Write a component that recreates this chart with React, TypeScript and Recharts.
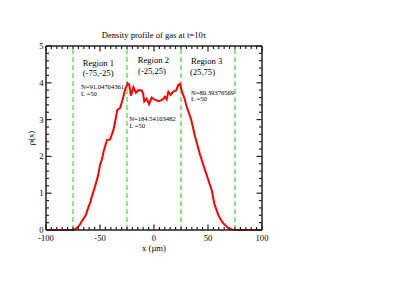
import React from 'react';
import { LineChart, Line, XAxis, YAxis, ReferenceLine, ReferenceDot } from 'recharts';

// ---- data ----
const xPositions = [
  -100, -80, -75, -72, -69, -67, -65, -63, -61, -59, -57.7, -54.6, -52, -51, -50,
  -48.4, -46.5, -44.5, -43.5, -40.7, -39, -37.6, -36, -34, -31.5, -30, -28.4, -26.9,
  -24.4, -23, -21.3, -19.1, -16.7, -14.5, -11.4, -10, -9, -6.8, -4.6, -2.2, 0, 2, 4,
  7, 9, 10.2, 11.7, 13.3, 15.4, 17.9, 20.4, 22.5, 24.1, 26, 28, 30.3, 32, 34.5, 38,
  42.6, 47.2, 50.3, 53.4, 55.8, 59.5, 62, 64.2, 68.8, 73.4, 75, 80, 100,
];
const density = [
  0, 0, 0, 0.04, 0.13, 0.23, 0.32, 0.41, 0.6, 0.75, 0.9, 1.18, 1.45, 1.6, 1.77,
  1.9, 2.15, 2.35, 2.45, 2.46, 2.6, 2.72, 2.94, 3.26, 3.31, 3.45, 3.62, 3.8,
  3.99, 3.95, 3.65, 3.88, 3.73, 3.8, 3.79, 3.7, 3.49, 3.57, 3.42, 3.6, 3.55, 3.53, 3.5,
  3.53, 3.58, 3.62, 3.55, 3.76, 3.67, 3.76, 3.79, 3.94, 3.97, 3.75, 3.6, 3.35, 3.21, 2.99, 2.54,
  2.05, 1.63, 1.36, 1.09, 0.72, 0.41, 0.27, 0.18, 0.05, 0, 0, 0, 0,
];
const xMajorTicks = [-100, -50, 0, 50, 100];
const xAllTicks = [
  -100, -95, -90, -85, -80, -75, -70, -65, -60, -55, -50, -45, -40, -35, -30, -25, -20,
  -15, -10, -5, 0, 5, 10, 15, 20, 25, 30, 35, 40, 45, 50, 55, 60, 65, 70, 75, 80, 85,
  90, 95, 100,
];
const yMajorTicks = [0, 1, 2, 3, 4, 5];
const yAllTicks = [
  0, 0.2, 0.4, 0.6, 0.8, 1, 1.2, 1.4, 1.6, 1.8, 2, 2.2, 2.4, 2.6, 2.8, 3, 3.2, 3.4,
  3.6, 3.8, 4, 4.2, 4.4, 4.6, 4.8, 5,
];
const regionBounds = [-75, -25, 25, 75];
const regionNames = ['Region 1', 'Region 2', 'Region 3'];
const regionRanges = ['(-75,-25)', '(-25,25)', '(25,75)'];
const regionCounts = ['N=91.04704361', 'N=184.54103482', 'N=80.39376569'];
const regionLengths = ['L =50', 'L =50', 'L =50'];
const titleText = 'Density profile of gas at t=10τ';
const xLabelText = 'x (µm)';
const yLabelText = 'ρ(x)';

// ---- layout (annotation anchors in data coordinates) ----
const nameAnchors = [
  { x: -66, y: 4.55 },
  { x: -15.1, y: 4.62 },
  { x: 34.3, y: 4.59 },
];
const rangeAnchors = [
  { x: -66, y: 4.27 },
  { x: -14.8, y: 4.32 },
  { x: 33.3, y: 4.3 },
];
const countAnchors = [
  { x: -67.6, y: 3.89 },
  { x: -22.9, y: 3.04 },
  { x: 34.3, y: 3.75 },
];
const lengthAnchors = [
  { x: -67.6, y: 3.7 },
  { x: -22.9, y: 2.85 },
  { x: 34.3, y: 3.56 },
];

const chartData = xPositions.map((x, i) => ({ x, rho: density[i] }));

const FONT = "'Liberation Serif', 'Times New Roman', Times, serif";
const AXIS = '#222';
const MAJOR = 5.5;
const MINOR = 3;

const BottomTick = (props: any) => {
  const { x, y, payload } = props;
  const major = xMajorTicks.includes(payload.value);
  return (
    <g>
      <line x1={x} x2={x} y1={y} y2={y - (major ? MAJOR : MINOR)} stroke={AXIS} strokeWidth={1.2} />
      {major && (
        <text x={x} y={y + 7.5} textAnchor="middle" dominantBaseline="central" fontSize={8.6} fontFamily={FONT} fill="#000">
          {payload.value}
        </text>
      )}
    </g>
  );
};

const TopTick = (props: any) => {
  const { x, y, payload } = props;
  const major = xMajorTicks.includes(payload.value);
  return <line x1={x} x2={x} y1={y} y2={y + (major ? MAJOR : MINOR)} stroke={AXIS} strokeWidth={1.2} />;
};

const LeftTick = (props: any) => {
  const { x, y, payload } = props;
  const major = yMajorTicks.includes(payload.value);
  return (
    <g>
      <line x1={x} x2={x + (major ? MAJOR : MINOR)} y1={y} y2={y} stroke={AXIS} strokeWidth={1.2} />
      {major && (
        <text x={x - 2.5} y={y} textAnchor="end" dominantBaseline="central" fontSize={8.6} fontFamily={FONT} fill="#000">
          {payload.value}
        </text>
      )}
    </g>
  );
};

const RightTick = (props: any) => {
  const { x, y, payload } = props;
  const major = yMajorTicks.includes(payload.value);
  return <line x1={x} x2={x - (major ? MAJOR : MINOR)} y1={y} y2={y} stroke={AXIS} strokeWidth={1.2} />;
};

const textLabel = (value: string, size: number) => (props: any) => {
  const vb = props.viewBox || {};
  return (
    <text x={vb.x} y={vb.y} textAnchor="start" dominantBaseline="central" fontSize={size} fontFamily={FONT} fill="#000">
      {value}
    </text>
  );
};

const renderAnnotations = (texts: string[], anchors: { x: number; y: number }[], size: number, key: string) =>
  texts.map((t, i) => (
    <ReferenceDot
      key={key + i}
      x={anchors[i].x}
      y={anchors[i].y}
      r={0}
      fill="none"
      stroke="none"
      isFront
      label={{ content: textLabel(t, size) }}
    />
  ));

export default function App() {
  return (
    <div style={{ position: 'absolute', left: 0, top: 0, width: 399, height: 308, background: '#fff' }}>
      <LineChart
        width={399}
        height={308}
        data={chartData}
        margin={{ top: 45, right: 136, bottom: 58, left: 26 }}
      >
        <XAxis
          dataKey="x"
          type="number"
          domain={[-100, 100]}
          ticks={xAllTicks}
          interval={0}
          height={20}
          tickSize={0}
          tickMargin={0}
          tickLine={false}
          axisLine={{ stroke: AXIS, strokeWidth: 1.5 }}
          tick={<BottomTick />}
          label={{
            content: (p: any) => {
              const vb = p.viewBox || {};
              return (
                <text x={vb.x + vb.width / 2} y={vb.y + 17.5} textAnchor="middle" dominantBaseline="central" fontSize={8.6} fontFamily={FONT} fill="#000">
                  {xLabelText}
                </text>
              );
            },
          }}
        />
        <XAxis
          xAxisId="top"
          dataKey="x"
          orientation="top"
          type="number"
          domain={[-100, 100]}
          ticks={xAllTicks}
          interval={0}
          height={1}
          tickSize={0}
          tickMargin={0}
          tickLine={false}
          axisLine={{ stroke: AXIS, strokeWidth: 1.5 }}
          tick={<TopTick />}
          label={{
            content: (p: any) => {
              const vb = p.viewBox || {};
              return (
                <text x={vb.x + vb.width / 2} y={vb.y + vb.height - 11} textAnchor="middle" dominantBaseline="central" fontSize={8.6} fontFamily={FONT} fill="#000">
                  {titleText}
                </text>
              );
            },
          }}
        />
        <YAxis
          type="number"
          domain={[0, 5]}
          ticks={yAllTicks}
          interval={0}
          width={20}
          tickSize={0}
          tickMargin={0}
          tickLine={false}
          axisLine={{ stroke: AXIS, strokeWidth: 1.5 }}
          tick={<LeftTick />}
          label={{
            content: (p: any) => {
              const vb = p.viewBox || {};
              const cx = vb.x + vb.width - 15;
              const cy = vb.y + vb.height / 2;
              return (
                <text x={cx} y={cy} transform={`rotate(-90, ${cx}, ${cy})`} textAnchor="middle" dominantBaseline="central" fontSize={8.6} fontFamily={FONT} fill="#000">
                  {yLabelText}
                </text>
              );
            },
          }}
        />
        <YAxis
          yAxisId="right"
          orientation="right"
          type="number"
          domain={[0, 5]}
          ticks={yAllTicks}
          interval={0}
          width={1}
          tickSize={0}
          tickMargin={0}
          tickLine={false}
          axisLine={{ stroke: AXIS, strokeWidth: 1.5 }}
          tick={<RightTick />}
        />
        {regionBounds.map((b) => (
          <ReferenceLine key={'b' + b} x={b} stroke="#44e044" strokeWidth={1.3} strokeDasharray="5 3" />
        ))}
        {/* invisible twin so the mirrored frame axes (top/right) get a domain */}
        <Line
          xAxisId="top"
          yAxisId="right"
          type="linear"
          dataKey="rho"
          stroke="none"
          dot={false}
          activeDot={false}
          isAnimationActive={false}
        />
        <Line
          type="linear"
          dataKey="rho"
          stroke="#ff0000"
          strokeWidth={2}
          dot={false}
          isAnimationActive={false}
        />
        {renderAnnotations(regionNames, nameAnchors, 8.6, 'n')}
        {renderAnnotations(regionRanges, rangeAnchors, 8.6, 'r')}
        {renderAnnotations(regionCounts, countAnchors, 6.6, 'c')}
        {renderAnnotations(regionLengths, lengthAnchors, 6.6, 'l')}
      </LineChart>
    </div>
  );
}
